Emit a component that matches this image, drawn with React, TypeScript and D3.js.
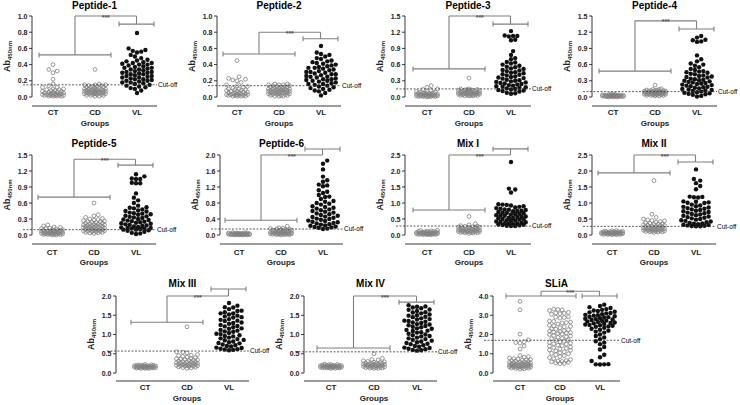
import React from "react";
import * as d3 from "d3";

const groups = ["CT", "CD", "VL"];

// Peptide-1
const p1CT = [0.40,0.34,0.32,0.30,0.22,0.16,0.14,0.12,0.12,0.10,0.10,0.09,0.09,0.08,0.08,0.07,0.07,0.06,0.06,0.05,0.05,0.05,0.04,0.04,0.04,0.04,0.03,0.03,0.03,0.03,0.03,0.02,0.02,0.02,0.02,0.02,0.01,0.01,0.01,0.01];
const p1CD = [0.34,0.16,0.15,0.15,0.15,0.14,0.14,0.13,0.13,0.12,0.12,0.12,0.11,0.11,0.10,0.10,0.10,0.09,0.09,0.09,0.08,0.08,0.08,0.08,0.07,0.07,0.07,0.07,0.06,0.06,0.06,0.06,0.05,0.05,0.05,0.05,0.04,0.04,0.04,0.04,0.03,0.03,0.03,0.02,0.02,0.02,0.01,0.01];
const p1VL = [0.79,0.60,0.58,0.57,0.56,0.55,0.52,0.50,0.48,0.46,0.45,0.44,0.43,0.42,0.42,0.41,0.40,0.40,0.39,0.38,0.37,0.36,0.36,0.35,0.34,0.34,0.33,0.32,0.31,0.31,0.30,0.30,0.29,0.28,0.28,0.27,0.26,0.26,0.25,0.24,0.24,0.23,0.22,0.22,0.21,0.20,0.20,0.19,0.18,0.18,0.17,0.16,0.15,0.14,0.13,0.12,0.11,0.10,0.08,0.05];

// Peptide-2
const p2CT = [0.45,0.25,0.23,0.22,0.21,0.20,0.18,0.15,0.14,0.13,0.12,0.11,0.10,0.10,0.09,0.09,0.08,0.08,0.07,0.07,0.06,0.06,0.05,0.05,0.05,0.04,0.04,0.04,0.03,0.03,0.03,0.03,0.02,0.02,0.02,0.02,0.01,0.01,0.01,0.01];
const p2CD = [0.16,0.16,0.15,0.15,0.15,0.14,0.14,0.13,0.13,0.12,0.12,0.12,0.11,0.11,0.11,0.10,0.10,0.10,0.09,0.09,0.09,0.08,0.08,0.08,0.08,0.07,0.07,0.07,0.06,0.06,0.06,0.06,0.05,0.05,0.05,0.05,0.04,0.04,0.04,0.03,0.03,0.03,0.02,0.02,0.02,0.01,0.01,0.01];
const p2VL = [0.63,0.55,0.53,0.52,0.50,0.48,0.47,0.45,0.44,0.43,0.42,0.41,0.40,0.39,0.38,0.37,0.36,0.36,0.35,0.34,0.33,0.32,0.31,0.31,0.30,0.29,0.28,0.28,0.27,0.26,0.25,0.25,0.24,0.23,0.22,0.22,0.21,0.20,0.20,0.19,0.18,0.17,0.16,0.16,0.15,0.14,0.13,0.12,0.11,0.10,0.09,0.08,0.07,0.05,0.02];

// Peptide-3
const p3CT = [0.21,0.18,0.15,0.14,0.12,0.10,0.10,0.09,0.09,0.08,0.08,0.07,0.07,0.06,0.06,0.06,0.05,0.05,0.05,0.04,0.04,0.04,0.04,0.03,0.03,0.03,0.03,0.02,0.02,0.02,0.02,0.02,0.01,0.01,0.01,0.01,0.01,0.00];
const p3CD = [0.35,0.15,0.15,0.14,0.14,0.13,0.13,0.12,0.12,0.12,0.11,0.11,0.10,0.10,0.10,0.09,0.09,0.09,0.08,0.08,0.08,0.08,0.07,0.07,0.07,0.06,0.06,0.06,0.06,0.05,0.05,0.05,0.05,0.04,0.04,0.04,0.03,0.03,0.03,0.02,0.02,0.02];
const p3VL = [1.22,1.14,1.13,1.13,1.12,1.06,1.05,0.85,0.78,0.72,0.70,0.65,0.64,0.62,0.60,0.58,0.56,0.55,0.53,0.52,0.50,0.49,0.48,0.46,0.45,0.44,0.42,0.41,0.40,0.38,0.37,0.36,0.35,0.34,0.32,0.31,0.30,0.29,0.28,0.27,0.26,0.25,0.24,0.23,0.22,0.21,0.20,0.19,0.18,0.17,0.16,0.15,0.14,0.13,0.12,0.11,0.10,0.08,0.07,0.06];

// Peptide-4
const p4CT = [0.05,0.05,0.04,0.04,0.04,0.04,0.04,0.03,0.03,0.03,0.03,0.03,0.03,0.03,0.02,0.02,0.02,0.02,0.02,0.02,0.02,0.02,0.01,0.01,0.01,0.01,0.01,0.01,0.01,0.00,0.00,0.00];
const p4CD = [0.22,0.15,0.14,0.14,0.13,0.13,0.12,0.12,0.12,0.11,0.11,0.11,0.10,0.10,0.10,0.10,0.09,0.09,0.09,0.09,0.08,0.08,0.08,0.08,0.07,0.07,0.07,0.07,0.06,0.06,0.06,0.06,0.05,0.05,0.05,0.05,0.04,0.04,0.04,0.03,0.03,0.03,0.02,0.02];
const p4VL = [1.13,1.10,1.06,1.05,1.03,1.02,0.77,0.70,0.66,0.62,0.60,0.58,0.55,0.52,0.50,0.48,0.47,0.46,0.45,0.43,0.42,0.40,0.39,0.38,0.37,0.36,0.34,0.33,0.32,0.31,0.30,0.29,0.28,0.27,0.26,0.25,0.24,0.23,0.22,0.21,0.20,0.19,0.18,0.17,0.16,0.15,0.14,0.13,0.12,0.11,0.10,0.09,0.08,0.07,0.06,0.05,0.04,0.02,0.01];

// Peptide-5
const p5CT = [0.19,0.17,0.15,0.14,0.13,0.12,0.12,0.11,0.10,0.10,0.09,0.09,0.08,0.08,0.07,0.07,0.06,0.06,0.06,0.05,0.05,0.05,0.04,0.04,0.04,0.04,0.03,0.03,0.03,0.03,0.02,0.02,0.02,0.02,0.01,0.01,0.01,0.01,0.00,0.00];
const p5CD = [0.60,0.38,0.36,0.33,0.31,0.30,0.29,0.28,0.27,0.26,0.25,0.25,0.24,0.23,0.22,0.22,0.21,0.20,0.20,0.19,0.19,0.18,0.18,0.17,0.17,0.16,0.16,0.15,0.15,0.14,0.14,0.13,0.13,0.12,0.12,0.11,0.11,0.10,0.10,0.09,0.09,0.08,0.08,0.07,0.07,0.06,0.06,0.05,0.05,0.04,0.04,0.03];
const p5VL = [1.14,1.10,1.06,1.05,1.05,0.98,0.97,0.97,0.78,0.70,0.65,0.60,0.55,0.52,0.51,0.50,0.48,0.46,0.45,0.44,0.42,0.41,0.40,0.39,0.38,0.36,0.35,0.34,0.33,0.32,0.30,0.29,0.28,0.27,0.26,0.25,0.24,0.23,0.22,0.21,0.20,0.19,0.18,0.17,0.16,0.15,0.14,0.13,0.13,0.12,0.12,0.11,0.10,0.10,0.09,0.08,0.06,0.04,0.03,0.02];

// Peptide-6
const p6CT = [0.06,0.06,0.05,0.05,0.05,0.04,0.04,0.04,0.04,0.03,0.03,0.03,0.03,0.03,0.02,0.02,0.02,0.02,0.02,0.02,0.01,0.01,0.01,0.01,0.01,0.01,0.00,0.00,0.00,0.00];
const p6CD = [0.22,0.18,0.17,0.16,0.15,0.15,0.14,0.13,0.12,0.12,0.11,0.10,0.10,0.09,0.09,0.08,0.08,0.07,0.07,0.06,0.06,0.06,0.05,0.05,0.05,0.04,0.04,0.04,0.04,0.03,0.03,0.03,0.02,0.02,0.02,0.02,0.01,0.01,0.01,0.00];
const p6VL = [1.86,1.78,1.64,1.46,1.37,1.33,1.26,1.24,1.22,1.12,1.08,1.05,1.00,0.96,0.95,0.90,0.85,0.83,0.80,0.78,0.76,0.72,0.70,0.68,0.66,0.64,0.62,0.60,0.58,0.56,0.54,0.52,0.50,0.48,0.46,0.45,0.43,0.41,0.40,0.38,0.36,0.35,0.33,0.32,0.30,0.29,0.27,0.26,0.24,0.23,0.21,0.20,0.19,0.18,0.16,0.15];

// Mix I
const m1CT = [0.15,0.14,0.13,0.12,0.12,0.11,0.10,0.10,0.09,0.09,0.08,0.08,0.07,0.07,0.07,0.06,0.06,0.06,0.05,0.05,0.05,0.04,0.04,0.04,0.04,0.03,0.03,0.03,0.02,0.02,0.02,0.01,0.01,0.01];
const m1CD = [0.58,0.35,0.32,0.29,0.28,0.27,0.26,0.25,0.24,0.23,0.22,0.22,0.21,0.20,0.20,0.19,0.18,0.18,0.17,0.16,0.16,0.15,0.15,0.14,0.14,0.13,0.13,0.12,0.12,0.11,0.11,0.10,0.10,0.09,0.09,0.08,0.08,0.07,0.07,0.06,0.05];
const m1VL = [2.28,1.45,1.42,1.33,0.96,0.95,0.94,0.92,0.90,0.88,0.86,0.84,0.82,0.80,0.79,0.78,0.76,0.75,0.74,0.72,0.70,0.69,0.68,0.66,0.65,0.64,0.62,0.61,0.60,0.58,0.57,0.56,0.54,0.53,0.52,0.50,0.49,0.48,0.46,0.45,0.44,0.42,0.41,0.40,0.38,0.37,0.36,0.35,0.34,0.33,0.32,0.31,0.30,0.29,0.28,0.28];

// Mix II
const m2CT = [0.14,0.13,0.12,0.12,0.11,0.11,0.10,0.10,0.09,0.09,0.08,0.08,0.08,0.07,0.07,0.07,0.06,0.06,0.06,0.05,0.05,0.05,0.05,0.04,0.04,0.04,0.03,0.03,0.03,0.02,0.02,0.02,0.01,0.01];
const m2CD = [1.70,0.65,0.55,0.50,0.47,0.45,0.44,0.42,0.40,0.38,0.37,0.35,0.34,0.33,0.32,0.31,0.30,0.29,0.28,0.27,0.26,0.25,0.24,0.23,0.22,0.22,0.21,0.20,0.20,0.19,0.18,0.18,0.17,0.16,0.16,0.15,0.15,0.14,0.13,0.13,0.12,0.11,0.11,0.10,0.10,0.09,0.08];
const m2VL = [2.05,1.75,1.70,1.62,1.53,1.43,1.20,1.19,1.18,1.17,1.05,1.04,1.02,1.01,1.00,0.95,0.92,0.90,0.88,0.86,0.84,0.82,0.80,0.78,0.76,0.74,0.72,0.70,0.68,0.66,0.64,0.62,0.60,0.58,0.56,0.54,0.52,0.50,0.48,0.46,0.44,0.42,0.40,0.38,0.36,0.35,0.34,0.32,0.31,0.30,0.29,0.28,0.27,0.27];

// Mix III
const m3CT = [0.22,0.21,0.21,0.20,0.20,0.20,0.19,0.19,0.19,0.18,0.18,0.18,0.17,0.17,0.17,0.16,0.16,0.16,0.15,0.15,0.15,0.15,0.14,0.14,0.14,0.14,0.13,0.13,0.13,0.12,0.12,0.12];
const m3CD = [1.20,0.55,0.54,0.52,0.48,0.46,0.45,0.43,0.41,0.40,0.38,0.37,0.36,0.35,0.34,0.33,0.32,0.31,0.30,0.29,0.28,0.28,0.27,0.26,0.25,0.25,0.24,0.23,0.23,0.22,0.22,0.21,0.20,0.20,0.19,0.19,0.18,0.18,0.17,0.16,0.15,0.14,0.13,0.12];
const m3VL = [1.82,1.75,1.71,1.70,1.66,1.62,1.61,1.58,1.55,1.55,1.52,1.49,1.47,1.45,1.44,1.40,1.38,1.36,1.35,1.31,1.30,1.28,1.25,1.22,1.21,1.19,1.16,1.15,1.12,1.10,1.08,1.07,1.04,1.02,1.01,0.98,0.96,0.95,0.92,0.90,0.88,0.86,0.85,0.82,0.80,0.78,0.77,0.74,0.72,0.70,0.69,0.66,0.65,0.63,0.62,0.61,0.60,0.59];

// Mix IV
const m4CT = [0.23,0.22,0.22,0.21,0.21,0.20,0.20,0.20,0.19,0.19,0.19,0.18,0.18,0.18,0.17,0.17,0.17,0.16,0.16,0.16,0.15,0.15,0.15,0.15,0.14,0.14,0.14,0.13,0.13,0.13,0.12,0.12];
const m4CD = [0.50,0.38,0.35,0.34,0.32,0.30,0.29,0.28,0.27,0.26,0.25,0.25,0.24,0.24,0.23,0.23,0.22,0.22,0.21,0.21,0.20,0.20,0.19,0.19,0.18,0.18,0.17,0.17,0.16,0.16,0.15,0.15,0.14,0.14,0.13,0.13,0.12,0.12];
const m4VL = [1.76,1.73,1.72,1.70,1.68,1.65,1.64,1.61,1.58,1.57,1.55,1.52,1.50,1.49,1.46,1.45,1.42,1.40,1.39,1.36,1.35,1.33,1.31,1.30,1.27,1.26,1.24,1.22,1.20,1.19,1.16,1.15,1.12,1.10,1.09,1.06,1.05,1.02,1.00,0.98,0.96,0.95,0.92,0.90,0.88,0.86,0.84,0.82,0.80,0.78,0.76,0.75,0.72,0.70,0.68,0.66,0.65,0.63,0.62,0.60,0.59,0.58];

// SLiA
const slCT = [3.72,3.28,2.02,1.72,1.62,1.58,1.55,1.40,1.25,0.90,0.85,0.82,0.78,0.75,0.72,0.70,0.68,0.66,0.64,0.62,0.60,0.58,0.56,0.55,0.54,0.52,0.50,0.50,0.48,0.47,0.46,0.45,0.44,0.43,0.42,0.41,0.40,0.40,0.39,0.38,0.37,0.36,0.35,0.34,0.33,0.32,0.31,0.30,0.29,0.28,0.27,0.26,0.25,0.24,0.22,0.20];
const slCD = [3.32,3.30,3.28,3.25,3.15,3.12,3.10,3.08,3.05,2.92,2.90,2.88,2.85,2.70,2.68,2.65,2.62,2.60,2.55,2.48,2.45,2.42,2.40,2.35,2.30,2.28,2.25,2.20,2.18,2.15,2.12,2.10,2.08,2.05,2.02,2.00,1.95,1.92,1.88,1.85,1.80,1.78,1.72,1.70,1.65,1.62,1.58,1.55,1.52,1.50,1.45,1.42,1.40,1.35,1.32,1.28,1.25,1.20,1.18,1.15,1.10,1.05,1.02,1.00,0.95,0.90,0.85,0.80,0.75,0.70,0.65,0.62,0.60,0.58,0.55,0.52,0.50,0.48];
const slVL = [3.55,3.48,3.42,3.38,3.32,3.28,3.25,3.22,3.18,3.15,3.12,3.10,3.05,3.02,3.00,2.98,2.95,2.92,2.90,2.88,2.85,2.82,2.80,2.78,2.75,2.72,2.70,2.68,2.65,2.62,2.60,2.58,2.55,2.52,2.50,2.48,2.45,2.42,2.40,2.35,2.30,2.25,2.20,2.15,2.10,2.00,1.92,1.85,1.75,1.65,1.58,1.50,1.35,1.22,0.95,0.82,0.62,0.46,0.45,0.45,0.44];

// title, y max, tick step, cut-off, bracket levels (CT-CD, VL, top joint)
const panels = [
  { title: "Peptide-1", max: 1.0, step: 0.2, cutoff: 0.15, left: 0.52, vl: 0.9, top: 1.0, data: [p1CT, p1CD, p1VL] },
  { title: "Peptide-2", max: 1.0, step: 0.2, cutoff: 0.14, left: 0.53, vl: 0.72, top: 0.8, data: [p2CT, p2CD, p2VL] },
  { title: "Peptide-3", max: 1.5, step: 0.3, cutoff: 0.15, left: 0.52, vl: 1.35, top: 1.5, data: [p3CT, p3CD, p3VL] },
  { title: "Peptide-4", max: 1.5, step: 0.3, cutoff: 0.1, left: 0.48, vl: 1.26, top: 1.41, data: [p4CT, p4CD, p4VL] },
  { title: "Peptide-5", max: 1.5, step: 0.3, cutoff: 0.1, left: 0.71, vl: 1.31, top: 1.42, data: [p5CT, p5CD, p5VL] },
  { title: "Peptide-6", max: 2.0, step: 0.4, cutoff: 0.15, left: 0.37, vl: 2.15, top: 2.0, data: [p6CT, p6CD, p6VL] },
  { title: "Mix I", max: 2.5, step: 0.5, cutoff: 0.28, left: 0.78, vl: 2.69, top: 2.5, data: [m1CT, m1CD, m1VL] },
  { title: "Mix II", max: 2.5, step: 0.5, cutoff: 0.27, left: 1.94, vl: 2.28, top: 2.5, data: [m2CT, m2CD, m2VL] },
  { title: "Mix III", max: 2.0, step: 0.5, cutoff: 0.57, left: 1.32, vl: 2.18, top: 2.0, data: [m3CT, m3CD, m3VL] },
  { title: "Mix IV", max: 2.0, step: 0.5, cutoff: 0.55, left: 0.65, vl: 1.84, top: 2.0, data: [m4CT, m4CD, m4VL] },
  { title: "SLiA", max: 4.0, step: 1.0, cutoff: 1.7, left: 4.0, vl: 4.0, top: 4.25, data: [slCT, slCD, slVL] },
];

// layout
const rows = [
  { title: 9, top: 16, zero: 97, axis: 106, cat: 115, groups: 126 },
  { title: 147, top: 155, zero: 235, axis: 244, cat: 255, groups: 265 },
  { title: 287, top: 296, zero: 373, axis: 381, cat: 390, groups: 401 },
];
const layout = [
  { row: 0, axisX: 32, ctX: 53, gap: 42 },
  { row: 0, axisX: 217, ctX: 237, gap: 42 },
  { row: 0, axisX: 405, ctX: 427, gap: 42 },
  { row: 0, axisX: 592, ctX: 613, gap: 42 },
  { row: 1, axisX: 32, ctX: 52, gap: 42 },
  { row: 1, axisX: 220, ctX: 239, gap: 42 },
  { row: 1, axisX: 405, ctX: 427, gap: 42 },
  { row: 1, axisX: 592, ctX: 612, gap: 42 },
  { row: 2, axisX: 116, ctX: 145, gap: 42 },
  { row: 2, axisX: 304, ctX: 331, gap: 43 },
  { row: 2, axisX: 493, ctX: 520, gap: 40 },
];

const FONT = "Arial, 'Liberation Sans', sans-serif";
const R = 2.2;

// simple beeswarm: keep y exact, push points sideways inside a band
function swarm(vals: number[], y: (v: number) => number, cx: number, half: number) {
  const d = R * 2 - 0.2;
  const offs: number[] = [0];
  for (let k = 1; (k * d) / 2 <= half; k++) offs.push((k * d) / 2, (-k * d) / 2);
  const placed: { x: number; y: number }[] = [];
  const sorted = [...vals].sort((a, b) => a - b);
  for (const v of sorted) {
    const py = y(v);
    let best = 0;
    let bestScore = -1;
    for (const o of offs) {
      let minD = Infinity;
      for (const p of placed) {
        const dd = Math.hypot(p.x - o, p.y - py);
        if (dd < minD) minD = dd;
      }
      if (minD >= d) {
        best = o;
        break;
      }
      if (minD > bestScore + 0.05) {
        bestScore = minD;
        best = o;
      }
    }
    placed.push({ x: best, y: py });
  }
  return placed.map((p) => ({ x: cx + p.x, y: p.y }));
}

function Panel({ p, lay }: { p: (typeof panels)[number]; lay: (typeof layout)[number] }) {
  const r = rows[lay.row];
  const y = d3.scaleLinear().domain([0, p.max]).range([r.zero, r.top]);
  const x = d3.scalePoint<string>().domain(groups).range([lay.ctX, lay.ctX + lay.gap * 2]);
  const ticks = d3.range(0, p.max + p.step / 2, p.step);
  const fmt = d3.format(".1f");
  const xCT = x("CT")!, xCD = x("CD")!, xVL = x("VL")!;
  const xEnd = xVL + 20;
  const grey = "#7f7f7f";

  const lA = xCT - 14, lB = xCD + 16, vA = xVL - 18, vB = xVL + 17;
  const lm = (lA + lB) / 2, vm = (vA + vB) / 2;
  const yl = y(p.left), yv = y(p.vl), yt = y(p.top);

  const bracket = (a: number, b: number, yy: number) => (
    <g>
      <line x1={a} x2={b} y1={yy} y2={yy} />
      <line x1={a} x2={a} y1={yy - 2.5} y2={yy + 2.5} />
      <line x1={b} x2={b} y1={yy - 2.5} y2={yy + 2.5} />
    </g>
  );

  return (
    <g fontFamily={FONT}>
      <text x={(lay.axisX + xEnd) / 2} y={r.title} textAnchor="middle" fontSize={10} fontWeight="bold">
        {p.title}
      </text>
      {/* y axis */}
      <line x1={lay.axisX} x2={lay.axisX} y1={y(0)} y2={y(p.max)} stroke="#222" strokeWidth={0.9} />
      {ticks.map((t) => (
        <g key={t}>
          <line x1={lay.axisX - 3} x2={lay.axisX} y1={y(t)} y2={y(t)} stroke="#222" strokeWidth={0.9} />
          <text x={lay.axisX - 4.5} y={y(t) + 2.5} textAnchor="end" fontSize={7} fontWeight="bold" fill="#222">
            {fmt(t)}
          </text>
        </g>
      ))}
      <text
        transform={`translate(${lay.axisX - 22},${(r.top + r.zero) / 2}) rotate(-90)`}
        textAnchor="middle"
        fontSize={9}
        fontWeight="bold"
        fill="#222"
      >
        <tspan>Ab</tspan>
        <tspan fontSize={6} dy={2}>450nm</tspan>
      </text>
      {/* x axis */}
      <line x1={lay.axisX} x2={xEnd} y1={r.axis} y2={r.axis} stroke="#222" strokeWidth={0.9} />
      {groups.map((g) => (
        <text key={g} x={x(g)} y={r.cat} textAnchor="middle" fontSize={8} fontWeight="bold" fill="#222">
          {g}
        </text>
      ))}
      <text x={xCD} y={r.groups} textAnchor="middle" fontSize={8} fontWeight="bold" fill="#222">
        Groups
      </text>
      {/* points */}
      {p.data.map((vals, gi) => {
        const pts = swarm(vals, y, x(groups[gi])!, gi === 2 ? 16 : 12);
        return (
          <g key={gi}>
            {pts.map((pt, k) =>
              gi === 2 ? (
                <circle key={k} cx={pt.x} cy={pt.y} r={R} fill="#111" />
              ) : (
                <circle key={k} cx={pt.x} cy={pt.y} r={R - 0.3} fill="none" stroke={grey} strokeWidth={0.8} />
              )
            )}
          </g>
        );
      })}
      {/* cut-off */}
      <line x1={lay.axisX - 9} x2={xEnd} y1={y(p.cutoff)} y2={y(p.cutoff)} stroke="#333" strokeWidth={0.8} strokeDasharray="2,1.5" />
      <text x={xEnd + 1} y={y(p.cutoff) + 2.3} fontSize={6.5} fill="#000">
        Cut-off
      </text>
      {/* significance brackets */}
      <g stroke={grey} strokeWidth={1.1} fill="none">
        {bracket(lA, lB, yl)}
        {bracket(vA, vB, yv)}
        <line x1={lm} x2={lm} y1={yl} y2={yt} />
        <line x1={vm} x2={vm} y1={yv} y2={yt} />
        <line x1={lm} x2={vm} y1={yt} y2={yt} />
      </g>
      <text x={(lm + vm) / 2} y={yt + 3.5} textAnchor="middle" fontSize={7} fontWeight="bold" fill="#555">
        ***
      </text>
    </g>
  );
}

export default function App() {
  return (
    <svg width={740} height={405} style={{ position: "absolute", left: 0, top: 0, background: "#fff" }}>
      {panels.map((p, i) => (
        <Panel key={p.title} p={p} lay={layout[i]} />
      ))}
    </svg>
  );
}
